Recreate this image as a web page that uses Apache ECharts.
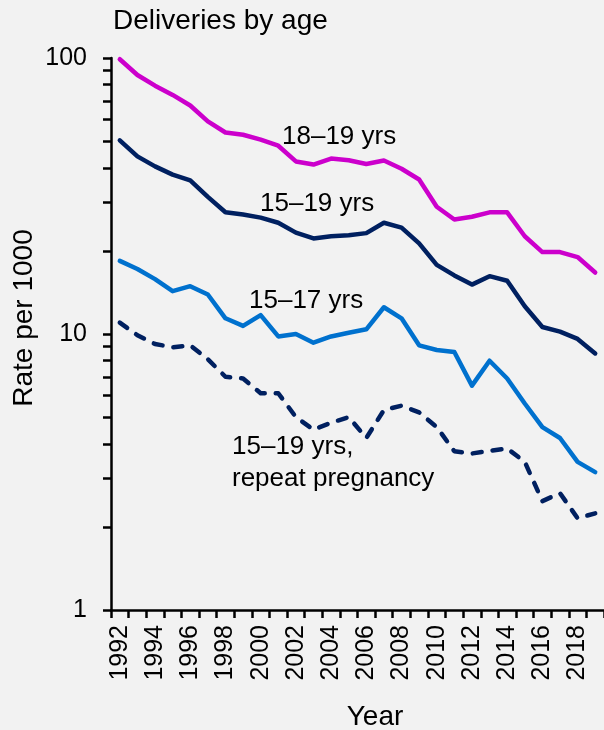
<!DOCTYPE html>
<html>
<head>
<meta charset="utf-8">
<script src="https://cdn.jsdelivr.net/npm/echarts@6/dist/echarts.min.js"></script>
<style>
    html, body { margin: 0; padding: 0; background: #f2f2f2; }
    #chart { width: 604px; height: 730px; }
</style>
</head>
<body>
<div id="chart"></div>
<script>
/* 分娩率（按年龄） */

var years = [];
for (var y = 1992; y <= 2019; y++) years.push(String(y));

var age1819 = [99, 86.8, 79.4, 73.5, 67.3, 58.9, 53.7, 52.7, 50.6, 48.1, 42.2, 41.1, 43.2, 42.6,
    41.3, 42.5, 39.7, 36.3, 28.9, 26.0, 26.6, 27.6, 27.6, 22.6, 19.8, 19.8, 19.0, 16.7];
var age1519 = [50.3, 44.0, 40.5, 37.8, 36.0, 31.4, 27.6, 27.1, 26.4, 25.3, 23.3, 22.2, 22.6, 22.8,
    23.2, 25.3, 24.3, 21.3, 17.8, 16.3, 15.1, 16.2, 15.6, 12.6, 10.6, 10.2, 9.6, 8.5];
var age1517 = [18.4, 17.2, 15.8, 14.3, 14.9, 13.9, 11.4, 10.7, 11.7, 9.8, 10.0, 9.3, 9.8, 10.1,
    10.4, 12.5, 11.4, 9.1, 8.75, 8.6, 6.5, 8.0, 6.9, 5.6, 4.6, 4.2, 3.44, 3.16];
var repeat1519 = [11.0, 9.9, 9.2, 8.95, 9.1, 8.1, 7.0, 6.9, 6.1, 6.1, 5.0, 4.5, 4.77, 5.0,
    4.2, 5.3, 5.5, 5.2, 4.6, 3.76, 3.69, 3.77, 3.85, 3.44, 2.48, 2.65, 2.15, 2.24];

var yTicks = [1, 2, 3, 4, 5, 6, 7, 8, 9, 10, 20, 30, 40, 50, 60, 70, 80, 90, 100];
var yLabels = [1, 10, 100];

var FONT = 'Liberation Sans, Arial, sans-serif';

function lineSeries(name, data, color, dashed) {
    return {
        name: name,
        type: 'line',
        data: data,
        showSymbol: false,
        symbol: 'none',
        lineStyle: {
            color: color,
            width: 4.5,
            type: dashed ? [9, 11] : 'solid',
            cap: 'round',
            join: 'round'
        }
    };
}

function text(str, x, y, size, opt) {
    opt = opt || {};
    return {
        type: 'text',
        x: x,
        y: y,
        rotation: opt.rotation || 0,
        style: {
            text: str,
            fill: '#000',
            font: size + 'px ' + FONT,
            align: opt.align || 'left',
            verticalAlign: 'middle'
        }
    };
}

var chart = echarts.init(document.getElementById('chart'));

var option = {
    backgroundColor: '#f2f2f2',
    animation: false,
    grid: { left: 111, right: 0, top: 58, bottom: 120 },
    xAxis: {
        type: 'category',
        data: years,
        boundaryGap: true,
        axisLine: { show: true, lineStyle: { color: '#000', width: 2.5 } },
        axisTick: { show: true, inside: false, interval: 0, length: 8, lineStyle: { color: '#000', width: 2.5 } },
        axisLabel: {
            interval: 1,
            rotate: 90,
            margin: 15,
            color: '#000',
            fontSize: 25,
            fontFamily: FONT
        },
        splitLine: { show: false }
    },
    yAxis: {
        type: 'log',
        logBase: 10,
        min: 1,
        max: 100,
        axisLine: { show: true, lineStyle: { color: '#000', width: 2.5 } },
        axisTick: { show: true, length: 8, customValues: yTicks, lineStyle: { color: '#000', width: 2.5 } },
        axisLabel: {
            customValues: yLabels,
            margin: 24,
            color: '#000',
            fontSize: 25,
            fontFamily: FONT
        },
        splitLine: { show: false }
    },
    series: [
        lineSeries('18–19 yrs', age1819, '#cc00cc'),
        lineSeries('15–19 yrs', age1519, '#002060'),
        lineSeries('15–17 yrs', age1517, '#0071ce'),
        lineSeries('15–19 yrs, repeat pregnancy', repeat1519, '#002060', true)
    ],
    graphic: [
        text('Deliveries by age', 113, 21, 28),
        text('Rate per 1000', 24, 318, 28, { rotation: Math.PI / 2, align: 'center' }),
        text('Year', 375, 717, 28, { align: 'center' }),
        text('18–19 yrs', 282, 137, 26),
        text('15–19 yrs', 260, 204, 26),
        text('15–17 yrs', 249, 301, 26),
        text('15–19 yrs,', 232, 447, 26),
        text('repeat pregnancy', 232, 479, 26)
    ]
};

chart.setOption(option);
</script>
</body>
</html>
